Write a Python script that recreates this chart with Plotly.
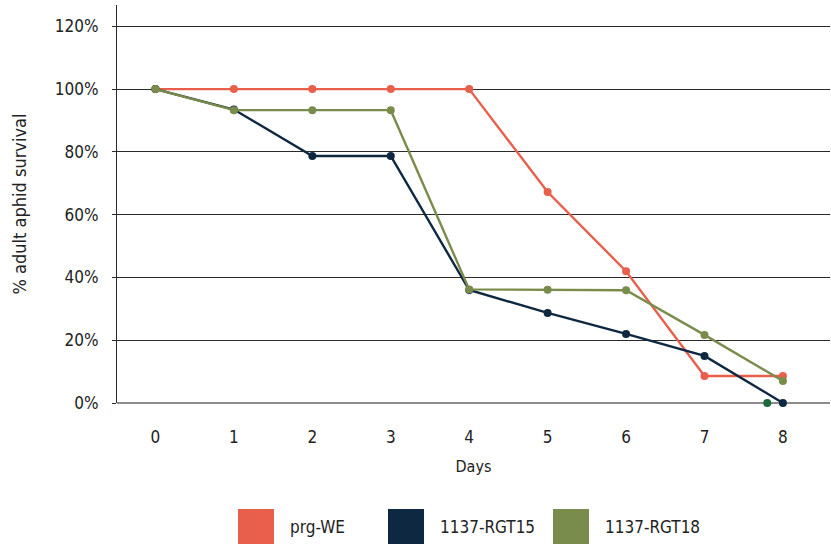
import plotly.graph_objects as go

days = [0, 1, 2, 3, 4, 5, 6, 7, 8]
prg_we = [100, 100, 100, 100, 100, 67.2, 42.0, 8.6, 8.6]
rgt15 = [100, 93.5, 78.7, 78.7, 36.0, 28.7, 22.0, 15.0, 0]
rgt18 = [100, 93.3, 93.3, 93.3, 36.2, 36.1, 35.9, 21.7, 7.0]
extra_x = [7.8]
extra_y = [0]

series_names = ["prg-WE", "1137-RGT15", "1137-RGT18"]
colors = ["#E8604C", "#0E2841", "#7A8C4B"]
y_ticks = [0, 20, 40, 60, 80, 100, 120]
y_tick_labels = ["0%", "20%", "40%", "60%", "80%", "100%", "120%"]

FONT = "DejaVu Sans Condensed, Roboto, sans-serif"

fig = go.Figure()
for name, vals, c in zip(series_names, [prg_we, rgt15, rgt18], colors):
    fig.add_trace(go.Scatter(x=days, y=vals, name=name, mode="lines+markers",
                             line=dict(color=c, width=2.4),
                             marker=dict(color=c, size=8), showlegend=False,
                             cliponaxis=False))
fig.add_trace(go.Scatter(x=extra_x, y=extra_y, mode="markers",
                         marker=dict(color="#1B6B3A", size=8), showlegend=False,
                         cliponaxis=False))

# Manual legend (square swatches)
leg_x = [238, 388, 553]
for i, (name, c) in enumerate(zip(series_names, colors)):
    x0 = leg_x[i]
    fig.add_shape(type="rect", xref="paper", yref="paper",
                  x0=(x0 - 117) / 713, x1=(x0 + 36 - 117) / 713,
                  y0=(403 - 509) / 398, y1=(403 - 545) / 398,
                  fillcolor=c, line=dict(width=0))
    fig.add_annotation(text=name, xref="paper", yref="paper",
                       x=(x0 + 50 - 117) / 713, y=(403 - 527) / 398,
                       xanchor="left", yanchor="middle", showarrow=False,
                       font=dict(size=17, color="#222", family=FONT))

fig.update_layout(
    width=831, height=544,
    margin=dict(l=117, r=1, t=5, b=141, autoexpand=False),
    plot_bgcolor="white", paper_bgcolor="white",
    font=dict(family=FONT, color="#222", size=17),
    xaxis=dict(range=[-0.49, 8.6], tickvals=days, ticktext=[str(d) for d in days],
               showgrid=False, zeroline=False, showline=False, ticks="",
               tickfont=dict(size=17), automargin=False, ticklabelstandoff=22,
               title=dict(text="Days", font=dict(size=16), standoff=14)),
    yaxis=dict(range=[0, 126.8], tickvals=y_ticks, ticktext=y_tick_labels,
               showgrid=True, gridcolor="#2a2a2a", gridwidth=1,
               zeroline=True, zerolinecolor="#8c8c8c", zerolinewidth=1.5,
               showline=True, linecolor="#2a2a2a", linewidth=1,
               ticks="outside", ticklen=4, tickcolor="#2a2a2a",
               tickfont=dict(size=17), automargin=False, ticklabelstandoff=10,
               title=dict(text="% adult aphid survival", font=dict(size=18), standoff=23)),
)
fig.write_html("out.html", config={"displayModeBar": False},
               post_script="document.body.style.margin='0';")
